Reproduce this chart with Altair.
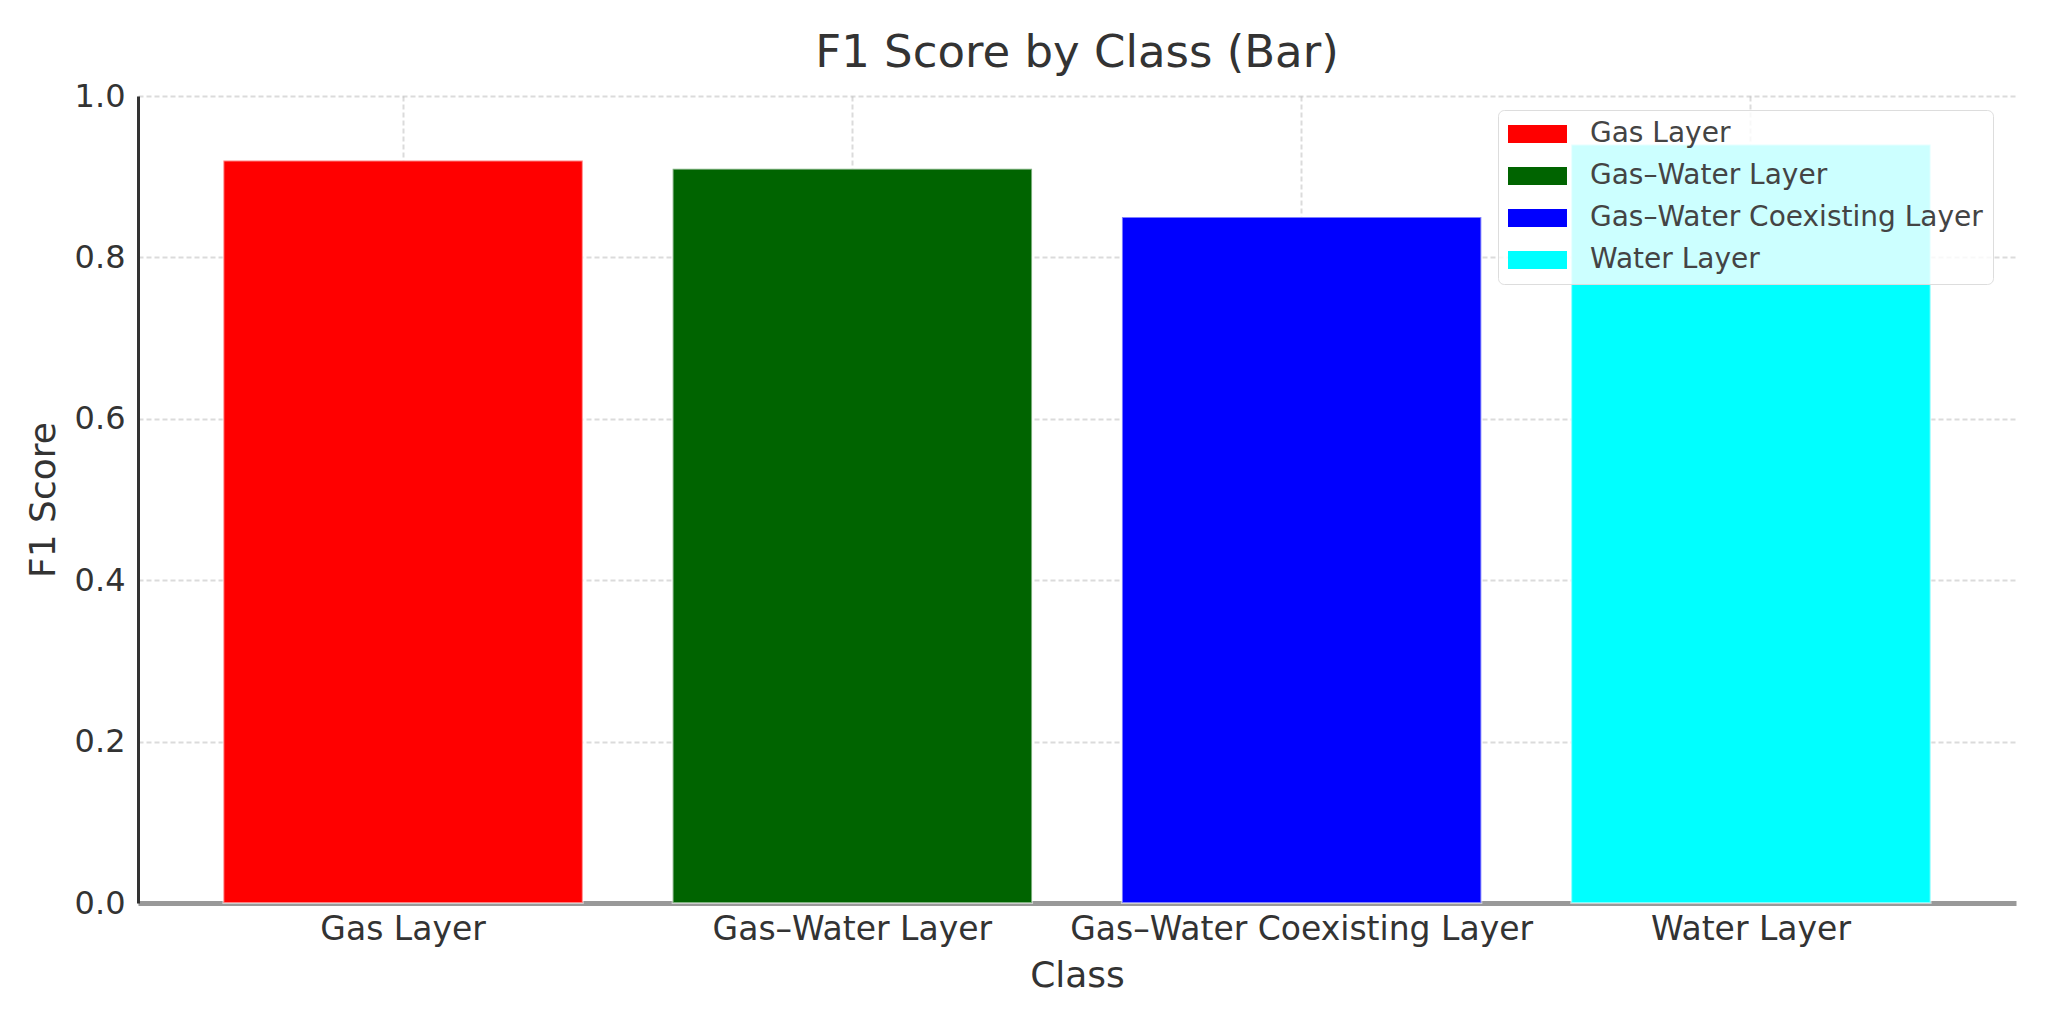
import altair as alt
import pandas as pd

classes = ["Gas Layer", "Gas–Water Layer", "Gas–Water Coexisting Layer", "Water Layer"]
f1_scores = [0.92, 0.91, 0.85, 0.94]
bar_colors = ["#ff0000", "#006400", "#0000ff", "#00ffff"]
y_ticks = [0.0, 0.2, 0.4, 0.6, 0.8, 1.0]

df = pd.DataFrame({"Class": classes, "F1": f1_scores})

FONT = "DejaVu Sans"
TEXT = "#333333"
rect_path = "M-1,-0.643L3.214,-0.643L3.214,0.643L-1,0.643Z"

chart = alt.Chart(df).mark_bar(
    stroke="white", strokeOpacity=0.5, strokeWidth=2
).encode(
    x=alt.X(
        "Class:N",
        sort=classes,
        scale=alt.Scale(paddingInner=0.2, paddingOuter=0.19),
        axis=alt.Axis(
            title="Class",
            labelAngle=0,
            bandPosition=0.5,
            labelOverlap=False,
            labelLimit=1000,
            labelFontSize=33,
            labelPadding=10,
            titleFontSize=36,
            titlePadding=12,
            domainColor="#999999",
            domainWidth=5,
        ),
    ),
    y=alt.Y(
        "F1:Q",
        scale=alt.Scale(domain=[0, 1], nice=False),
        axis=alt.Axis(
            title="F1 Score",
            values=y_ticks,
            format=".1f",
            labelFontSize=32,
            labelPadding=13,
            titleFontSize=36,
            titlePadding=12,
            domainColor="#333333",
            domainWidth=3,
        ),
    ),
    color=alt.Color(
        "Class:N",
        sort=classes,
        scale=alt.Scale(domain=classes, range=bar_colors),
        legend=alt.Legend(
            title=None,
            orient="none",
            legendX=1360,
            legendY=14,
            symbolType=rect_path,
            symbolSize=784,
            symbolStrokeWidth=0,
            symbolOpacity=1,
            labelFontSize=28,
            labelFont=FONT,
            labelColor="#444444",
            labelOffset=54,
            labelLimit=1000,
            rowPadding=14,
            padding=10,
            strokeColor="#dddddd",
            fillColor="rgba(255,255,255,0.8)",
            cornerRadius=6,
        ),
    ),
).properties(
    width=1878,
    height=807,
    title=alt.TitleParams(
        text="F1 Score by Class (Bar)",
        fontSize=45,
        font=FONT,
        fontWeight="normal",
        color=TEXT,
        anchor="middle",
        offset=4,
    ),
    autosize=alt.AutoSizeParams(type="none"),
    padding={"left": 130, "top": 88, "right": 35, "bottom": 106},
).configure_axis(
    labelFont=FONT,
    titleFont=FONT,
    labelColor=TEXT,
    titleColor=TEXT,
    titleFontWeight="normal",
    ticks=False,
    grid=True,
    gridColor="#b0b0b0",
    gridOpacity=0.45,
    gridDash=[5, 3],
    gridWidth=2,
    zindex=1,
).configure_view(strokeWidth=0)

chart.save("out.html", embed_options={"renderer": "svg", "actions": False})
